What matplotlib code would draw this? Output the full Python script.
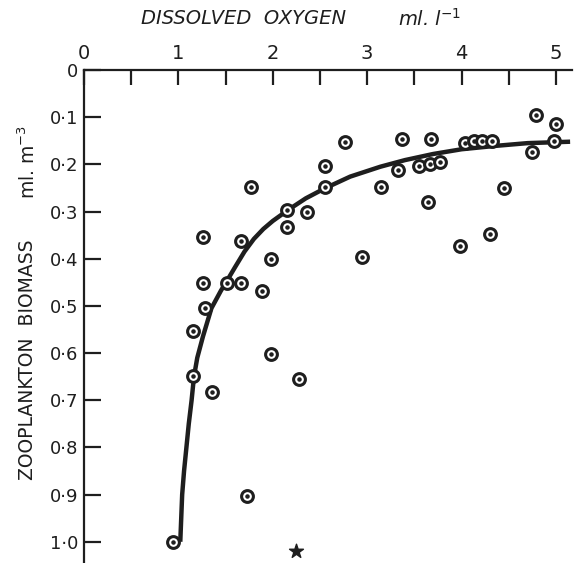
import numpy as np
import matplotlib
matplotlib.use('Agg')
import matplotlib.pyplot as plt

# observed stations: dissolved oxygen (ml/l) vs zooplankton biomass (ml/m3)
oxygen = [0.94, 1.15, 1.15, 1.26, 1.26, 1.28, 1.36, 1.52, 1.66, 1.66,
          1.77, 1.73, 1.89, 1.98, 1.98, 2.15, 2.15, 2.36, 2.28, 2.55,
          2.55, 2.76, 2.95, 3.15, 3.33, 3.37, 3.55, 3.67, 3.68, 3.77,
          3.64, 3.98, 4.04, 4.13, 4.22, 4.32, 4.30, 4.45, 4.75, 4.79,
          5.00, 4.98]
biomass = [1.00, 0.553, 0.648, 0.354, 0.452, 0.505, 0.683, 0.452, 0.452, 0.362,
           0.247, 0.902, 0.468, 0.400, 0.602, 0.297, 0.333, 0.301, 0.654, 0.203,
           0.249, 0.153, 0.397, 0.248, 0.212, 0.147, 0.203, 0.200, 0.146, 0.195,
           0.279, 0.374, 0.155, 0.151, 0.151, 0.150, 0.347, 0.251, 0.174, 0.095,
           0.114, 0.151]

# hand drawn trend curve
curve_x = [1.02, 1.03, 1.04, 1.06, 1.085, 1.11, 1.14, 1.165, 1.20, 1.26,
           1.35, 1.45, 1.52, 1.60, 1.70, 1.80, 1.90, 2.00, 2.16, 2.35,
           2.55, 2.82, 3.14, 3.40, 3.70, 4.00, 4.35, 4.70, 5.00, 5.15]
curve_y = [1.00, 0.95, 0.90, 0.85, 0.80, 0.75, 0.70, 0.65, 0.61, 0.565,
           0.505, 0.468, 0.445, 0.418, 0.385, 0.358, 0.337, 0.320, 0.297, 0.272,
           0.251, 0.226, 0.205, 0.191, 0.178, 0.168, 0.161, 0.155, 0.153, 0.152]

# odd star mark near the bottom
star_x = [2.25]
star_y = [1.02]

x_ticks = [0, 1, 2, 3, 4, 5]
x_minor = [0.5, 1.5, 2.5, 3.5, 4.5]
y_ticks = [0, 0.1, 0.2, 0.3, 0.4, 0.5, 0.6, 0.7, 0.8, 0.9, 1.0]
y_labels = ['0', '0·1', '0·2', '0·3', '0·4', '0·5', '0·6', '0·7', '0·8', '0·9', '1·0']

ink = '#1e1e1e'

fig = plt.figure(figsize=(5.88, 5.63), dpi=100)
ax = fig.add_axes([84 / 588, 0, 488 / 588, 493 / 563])
ax.set_xlim(0, 5.17)
ax.set_ylim(1.045, 0)

ax.spines['bottom'].set_visible(False)
ax.spines['right'].set_visible(False)
for s in ['top', 'left']:
    ax.spines[s].set_linewidth(1.6)
    ax.spines[s].set_color(ink)

ax.xaxis.tick_top()
ax.set_xticks(x_ticks)
ax.set_xticks(x_minor, minor=True)
ax.set_yticks(y_ticks)
ax.set_yticklabels(y_labels)
ax.tick_params(axis='x', which='both', direction='in', length=11, width=1.6,
               pad=5, labelsize=14, colors=ink, top=True, bottom=False)
ax.tick_params(axis='y', which='both', direction='in', length=12, width=1.6,
               pad=4, labelsize=13, colors=ink)

ax.plot(curve_x, curve_y, lw=3.2, color=ink, solid_capstyle='butt',
        solid_joinstyle='round', zorder=2)
ax.scatter(oxygen, biomass, s=72, facecolor='white', edgecolor=ink,
           linewidth=2.2, zorder=3)
ax.scatter(oxygen, biomass, s=5, color=ink, zorder=4)
ax.scatter(star_x, star_y, s=110, marker='*', color=ink, zorder=4, clip_on=False)

fig.text(141 / 588, 1 - 19 / 563, 'DISSOLVED  OXYGEN', fontsize=14,
         style='italic', color=ink, ha='left', va='center')
fig.text(398 / 588, 1 - 19 / 563, r'ml. l$^{-1}$', fontsize=14,
         style='italic', color=ink, ha='left', va='center')
fig.text(28 / 588, 1 - 360 / 563, 'ZOOPLANKTON  BIOMASS', fontsize=13.5,
         rotation=90, color=ink, ha='center', va='center', fontweight='medium')
fig.text(28 / 588, 1 - 162 / 563, r'ml. m$^{-3}$', fontsize=13.5,
         rotation=90, color=ink, ha='center', va='center')

fig.savefig('out.png', dpi=100)
